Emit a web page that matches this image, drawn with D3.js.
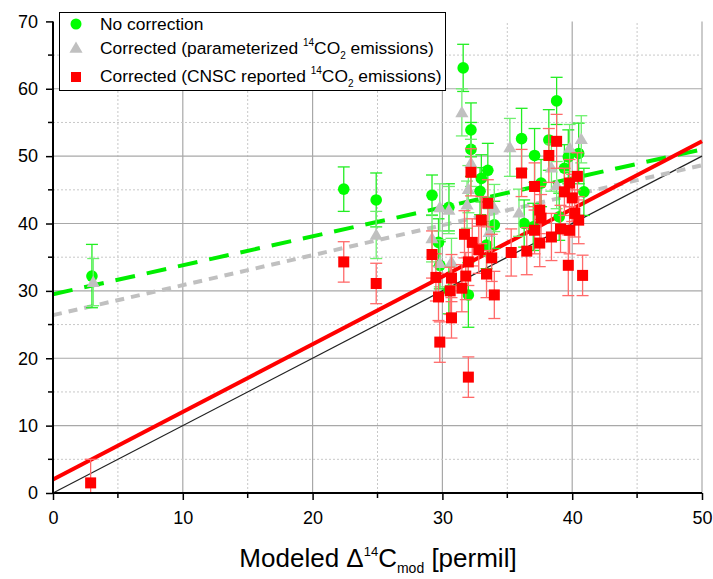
<!DOCTYPE html>
<html>
<head>
<meta charset="utf-8">
<script src="https://cdn.jsdelivr.net/npm/d3@7"></script>
<style>
  body { margin: 0; background: #fff; }
  svg text { font-family: "Liberation Sans", Arial, sans-serif; fill: #000; }
</style>
</head>
<body>
<svg id="chart" width="713" height="579"></svg>
<script>
// [x, y, err]
const noCorrection = [
  [3.0, 32.2, 4.7], [22.4, 45.1, 3.3], [24.9, 43.5, 4.0], [29.2, 44.2, 3.0],
  [29.7, 37.2, 3.5], [29.8, 33.8, 3.5], [30.5, 42.4, 3.5], [30.5, 30.1, 3.5],
  [31.6, 63.1, 3.5], [32.2, 53.9, 4.0], [32.2, 51.0, 4.0], [32.0, 29.4, 4.8],
  [32.9, 44.8, 3.5], [33.0, 46.7, 3.5], [33.4, 36.8, 3.5], [33.5, 47.9, 4.0],
  [34.0, 39.8, 3.5], [36.1, 52.6, 4.5], [36.3, 40.0, 3.5], [37.1, 50.1, 4.0],
  [37.6, 46.0, 3.5], [38.2, 52.4, 4.5], [38.8, 58.2, 3.5], [39.4, 48.2, 3.5],
  [39.7, 49.9, 4.0], [40.5, 50.4, 4.5], [40.9, 44.7, 3.5], [37.0, 39.5, 3.5],
  [39.0, 41.0, 3.5]
]
const correctedParam = [
  [3.1, 31.3, 3.5], [24.9, 38.3, 3.5], [29.2, 37.8, 3.5], [29.8, 42.4, 3.5],
  [29.8, 34.1, 3.5], [30.5, 42.0, 3.5], [30.7, 34.3, 3.5], [31.5, 56.5, 3.5],
  [32.2, 49.0, 3.5], [32.0, 45.1, 3.5], [31.9, 42.8, 3.5], [33.6, 38.7, 3.5],
  [34.0, 42.3, 3.5], [35.2, 51.3, 4.3], [35.9, 41.6, 3.5], [38.4, 48.3, 3.5],
  [38.8, 45.7, 3.5], [39.8, 51.2, 3.5], [40.7, 52.5, 3.5]
]
const correctedCNSC = [
  [2.9, 1.5, 3.5], [22.4, 34.3, 3.0], [24.9, 31.1, 3.0], [29.2, 35.4, 3.5],
  [29.5, 32.0, 3.5], [29.7, 29.1, 3.5], [29.8, 22.4, 3.0], [30.6, 30.0, 3.5],
  [30.7, 31.9, 3.5], [30.7, 26.0, 3.0], [31.5, 30.4, 3.5], [31.7, 38.4, 3.5],
  [31.8, 32.2, 3.5], [32.0, 34.3, 3.5], [32.0, 17.2, 3.0], [32.2, 47.6, 3.5],
  [32.3, 37.2, 3.5], [32.8, 36.1, 3.5], [33.0, 40.5, 3.5], [33.4, 32.5, 3.5],
  [33.5, 43.0, 3.5], [33.8, 34.9, 3.5], [34.0, 29.4, 3.5], [35.3, 35.7, 3.5],
  [36.1, 47.5, 3.5], [36.5, 35.9, 3.5], [37.1, 45.5, 3.5], [37.1, 39.0, 3.5],
  [37.5, 42.0, 3.5], [37.5, 37.1, 3.5], [37.6, 40.8, 3.5], [38.2, 50.1, 4.0],
  [38.4, 38.0, 3.5], [38.8, 52.2, 4.0], [39.1, 39.2, 3.5], [39.4, 44.7, 3.5],
  [39.7, 33.8, 4.5], [39.8, 46.0, 3.5], [39.8, 39.0, 3.5], [40.0, 43.8, 3.5],
  [40.2, 41.5, 3.5], [40.4, 47.0, 3.5], [40.5, 40.5, 3.5], [40.8, 32.3, 3.0]
]
// fitted lines [intercept, slope]
const fitNoCorrection = [29.5, 0.43]
const fitParam = [26.4, 0.445]
const fitCNSC = [2.0, 1.004]
const oneToOne = [0, 1]

const xTicks = [0, 10, 20, 30, 40, 50]
const yTicks = [0, 10, 20, 30, 40, 50, 60, 70]

const svg = d3.select("#chart")
const x = d3.scaleLinear().domain([0, 50]).range([53, 702])
const y = d3.scaleLinear().domain([0, 70]).range([493, 21.4])

///// GRID /////
const grid = svg.append("g")
for (let v = 5; v <= 50; v += 5) {
  const major = v % 10 === 0
  grid.append("line")
    .attr("x1", x(v)).attr("x2", x(v)).attr("y1", y(0)).attr("y2", y(70))
    .attr("stroke", major ? "#a8a8a8" : "#c8c8c8")
    .attr("stroke-width", major ? 1.2 : 1)
    .attr("stroke-dasharray", major ? null : "2,2")
}
for (let v = 5; v <= 65; v += 5) {
  const major = v % 10 === 0
  grid.append("line")
    .attr("x1", x(0)).attr("x2", x(50)).attr("y1", y(v)).attr("y2", y(v))
    .attr("stroke", major ? "#a8a8a8" : "#c8c8c8")
    .attr("stroke-width", major ? 1.2 : 1)
    .attr("stroke-dasharray", major ? null : "2,2")
}

///// FIT LINES /////
function fitLine(fit, color, width, dash) {
  svg.append("line")
    .attr("x1", x(0)).attr("y1", y(fit[0]))
    .attr("x2", x(50)).attr("y2", y(fit[0] + fit[1] * 50))
    .attr("stroke", color)
    .attr("stroke-width", width)
    .attr("stroke-dasharray", dash)
}
fitLine(oneToOne, "#222", 1.2, null)
fitLine(fitParam, "#c0c0c0", 4, "9,7")
fitLine(fitNoCorrection, "#00ee00", 4, "20,12")
fitLine(fitCNSC, "#ff0000", 4, null)

///// POINTS /////
function errorBars(data, color) {
  const g = svg.append("g").attr("stroke", color).attr("stroke-width", 1.3)
  data.forEach(([vx, vy, e]) => {
    const lo = Math.max(0, vy - e)
    g.append("line").attr("x1", x(vx)).attr("x2", x(vx)).attr("y1", y(lo)).attr("y2", y(vy + e))
    g.append("line").attr("x1", x(vx) - 6).attr("x2", x(vx) + 6).attr("y1", y(vy + e)).attr("y2", y(vy + e))
    if (vy - e > 0)
      g.append("line").attr("x1", x(vx) - 6).attr("x2", x(vx) + 6).attr("y1", y(lo)).attr("y2", y(lo))
  })
}

errorBars(noCorrection, "#22ee22")
svg.append("g").selectAll("circle").data(noCorrection).join("circle")
  .attr("cx", d => x(d[0])).attr("cy", d => y(d[1])).attr("r", 5.8)
  .attr("fill", "#00ff00")

errorBars(correctedParam, "#6ef06e")
const tri = d3.symbol().type(d3.symbolTriangle).size(75)
svg.append("g").selectAll("path").data(correctedParam).join("path")
  .attr("d", tri)
  .attr("transform", d => `translate(${x(d[0])},${y(d[1]) + 1})`)
  .attr("fill", "#c0c0c0")

errorBars(correctedCNSC, "#ff6a6a")
svg.append("g").selectAll("rect").data(correctedCNSC).join("rect")
  .attr("x", d => x(d[0]) - 5.5).attr("y", d => y(d[1]) - 5.5)
  .attr("width", 11).attr("height", 11)
  .attr("fill", "#ff0000")

///// AXES /////
const xAxis = svg.append("g").attr("transform", `translate(0,${y(0)})`)
  .call(d3.axisBottom(x).tickValues(xTicks).tickSize(7).tickPadding(11))
const yAxis = svg.append("g").attr("transform", `translate(${x(0)},0)`)
  .call(d3.axisLeft(y).tickValues(yTicks).tickSize(7).tickPadding(8))
;[xAxis, yAxis].forEach(a => {
  a.select(".domain").attr("stroke", "#000").attr("stroke-width", 2)
  a.selectAll(".tick line").attr("stroke", "#000").attr("stroke-width", 1.5)
  a.selectAll(".tick text").attr("font-size", 18).attr("font-family", "Liberation Sans, Arial, sans-serif")
})
xAxis.select(".domain").attr("d", `M${x(0)},0H${x(50)}`)
yAxis.select(".domain").attr("d", `M0,${y(0)}V${y(70)}`)
// minor ticks
for (let v = 5; v < 50; v += 10)
  svg.append("line").attr("x1", x(v)).attr("x2", x(v)).attr("y1", y(0)).attr("y2", y(0) + 5)
    .attr("stroke", "#000").attr("stroke-width", 1.5)
for (let v = 5; v < 70; v += 10)
  svg.append("line").attr("x1", x(0) - 5).attr("x2", x(0)).attr("y1", y(v)).attr("y2", y(v))
    .attr("stroke", "#000").attr("stroke-width", 1.5)

// x title
const title = svg.append("text").attr("x", 378).attr("y", 567)
  .attr("text-anchor", "middle").attr("font-size", 26)
title.append("tspan").text("Modeled \u0394")
title.append("tspan").text("14").attr("font-size", 13).attr("dy", -11)
title.append("tspan").text("C").attr("dy", 11)
title.append("tspan").text("mod").attr("font-size", 14).attr("dy", 6)
title.append("tspan").text(" [permil]").attr("dy", -6)

///// LEGEND /////
const legend = svg.append("g")
legend.append("rect").attr("x", 59.5).attr("y", 12.5).attr("width", 386).attr("height", 78)
  .attr("fill", "#fff").attr("stroke", "#000").attr("stroke-width", 1)
legend.append("circle").attr("cx", 76).attr("cy", 24).attr("r", 5.5).attr("fill", "#00ff00")
legend.append("path").attr("d", tri).attr("transform", "translate(76,49)").attr("fill", "#c0c0c0")
legend.append("rect").attr("x", 71).attr("y", 72).attr("width", 10).attr("height", 10).attr("fill", "#ff0000")

function legendText(yPos, before, after) {
  const t = legend.append("text").attr("x", 100).attr("y", yPos).attr("font-size", 17.4)
  t.append("tspan").text(before)
  if (after !== undefined) {
    t.append("tspan").text("14").attr("font-size", 10).attr("dy", -8)
    t.append("tspan").text("CO").attr("dy", 8)
    t.append("tspan").text("2").attr("font-size", 10).attr("dy", 5)
    t.append("tspan").text(after).attr("dy", -5)
  }
}
legendText(30, "No correction")
legendText(54, "Corrected (parameterized ", " emissions)")
legendText(82, "Corrected (CNSC reported ", " emissions)")
</script>
</body>
</html>
